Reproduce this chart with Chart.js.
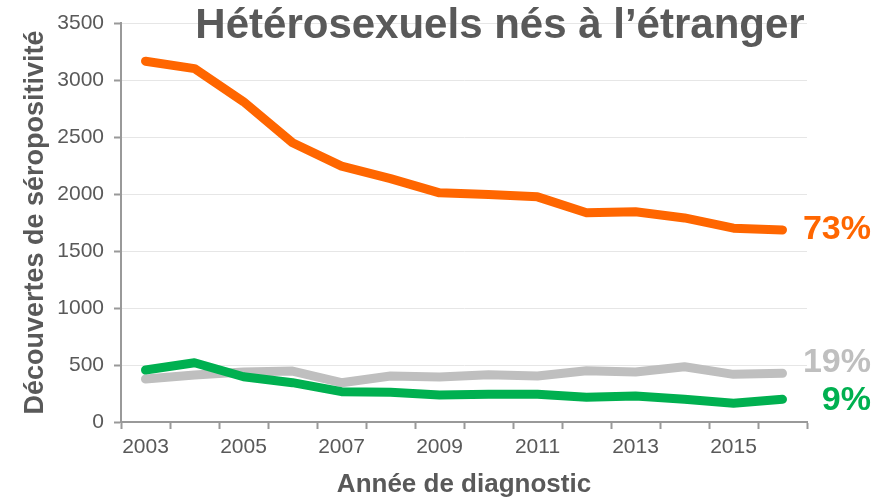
<!DOCTYPE html>
<html>
<head>
<meta charset="utf-8">
<script src="https://cdn.jsdelivr.net/npm/chart.js@4"></script>
<style>
  html, body { margin: 0; padding: 0; background: #fff; }
  #wrap { width: 884px; height: 500px; }
</style>
</head>
<body>
<div id="wrap"><canvas id="chart" width="884" height="500"></canvas></div>
<script>
const years = [2003, 2004, 2005, 2006, 2007, 2008, 2009, 2010, 2011, 2012, 2013, 2014, 2015, 2016];
const orangeValues = [3165, 3100, 2810, 2450, 2245, 2135, 2010, 1995, 1975, 1835, 1845, 1790, 1700, 1685];
const greenValues = [456, 520, 397, 345, 266, 260, 237, 243, 243, 217, 228, 199, 164, 199];
const grayValues = [377, 412, 438, 447, 345, 404, 395, 415, 403, 450, 438, 485, 418, 427];
const endLabels = ['73%', '9%', '19%'];

const FONT = "'Liberation Sans', Arial, sans-serif";
const TEXT = '#595959';

// titles and percentage labels drawn on top
const textPlugin = {
    id: 'texts',
    afterDraw(chart) {
        const ctx = chart.ctx;
        const area = chart.chartArea;
        ctx.save();
        ctx.fillStyle = TEXT;
        ctx.font = 'bold 42px ' + FONT;
        ctx.textAlign = 'center';
        ctx.textBaseline = 'alphabetic';
        ctx.fillText('Hétérosexuels nés à l’étranger', 500, 38);

        ctx.font = 'bold 26px ' + FONT;
        ctx.fillText('Année de diagnostic', (area.left + area.right) / 2, 492);

        ctx.save();
        ctx.translate(43, (area.top + area.bottom) / 2);
        ctx.rotate(-Math.PI / 2);
        ctx.font = 'bold 27px ' + FONT;
        ctx.fillText('Découvertes de séropositivité', 0, 0);
        ctx.restore();

        ctx.font = 'bold 34px ' + FONT;
        ctx.textAlign = 'right';
        ctx.textBaseline = 'middle';
        const shifts = [0, 1, -11];
        chart.data.datasets.forEach((ds, i) => {
            const pts = chart.getDatasetMeta(i).data;
            const last = pts[pts.length - 1];
            ctx.fillStyle = ds.borderColor;
            ctx.fillText(endLabels[i], 871, last.y + shifts[i]);
        });
        ctx.restore();
    }
};

const lineStyle = { borderWidth: 9, pointRadius: 0, tension: 0, borderCapStyle: 'round', borderJoinStyle: 'round', fill: false };

new Chart(document.getElementById('chart'), {
    type: 'line',
    data: {
        labels: years,
        datasets: [
            { label: 'orange', data: orangeValues, borderColor: '#FF6600', ...lineStyle },
            { label: 'green', data: greenValues, borderColor: '#00B050', ...lineStyle },
            { label: 'gray', data: grayValues, borderColor: '#BFBFBF', ...lineStyle }
        ]
    },
    options: {
        responsive: false,
        animation: false,
        layout: { padding: { top: 23, right: 77, bottom: 0, left: 0 } },
        plugins: { legend: { display: false }, tooltip: { enabled: false } },
        scales: {
            x: {
                type: 'category',
                offset: true,
                grid: { offset: true, drawOnChartArea: false, drawTicks: true, tickLength: 7, tickColor: '#999', tickWidth: 2 },
                border: { display: true, color: '#999', width: 2 },
                ticks: {
                    autoSkip: false,
                    maxRotation: 0,
                    padding: 6,
                    color: TEXT,
                    font: { family: FONT, size: 21 },
                    callback: (v, i) => (i % 2 === 0 ? years[i] : '')
                },
                afterFit: s => { s.height = 78; }
            },
            y: {
                min: 0,
                max: 3500,
                grid: { color: '#e6e6e6', lineWidth: 1, tickLength: 7, tickColor: '#999', tickWidth: 2 },
                border: { display: true, color: '#999', width: 2 },
                ticks: {
                    stepSize: 500,
                    padding: 10,
                    color: TEXT,
                    font: { family: FONT, size: 21 },
                    callback: v => String(v)
                },
                afterFit: s => { s.width = 121; }
            }
        }
    },
    plugins: [textPlugin]
});
</script>
</body>
</html>
